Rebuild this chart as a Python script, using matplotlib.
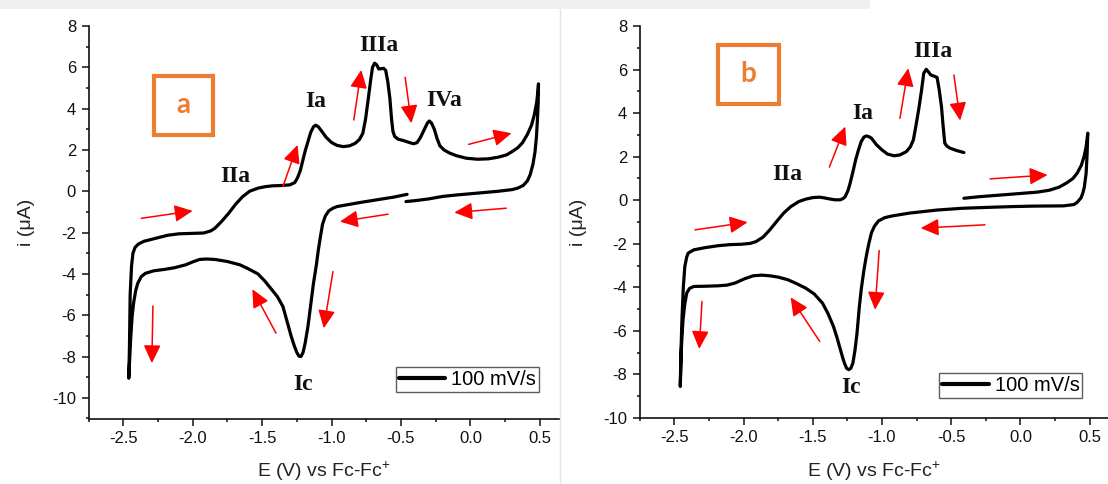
import matplotlib
matplotlib.use("Agg")
import matplotlib.pyplot as plt
from matplotlib.patches import Rectangle, FancyArrowPatch
from matplotlib.lines import Line2D
from matplotlib.ticker import MultipleLocator, FormatStrFormatter

plt.rcParams['font.family'] = ['Liberation Sans', 'DejaVu Sans']
plt.rcParams['mathtext.default'] = 'regular'
plt.rcParams['axes.unicode_minus'] = False

# ---- cyclic voltammogram (a), 100 mV/s, in scan order ----
cv_a_E = [
    -0.456, -0.55, -0.68, -0.80, -0.915, -0.96, -0.99, -1.02, -1.045, -1.065,
    -1.08, -1.095, -1.11, -1.13, -1.15, -1.17, -1.19, -1.205, -1.22, -1.235,
    -1.25, -1.27, -1.29, -1.32, -1.35, -1.39, -1.43, -1.48, -1.53, -1.60,
    -1.66, -1.75, -1.84, -1.90, -1.95, -2.00, -2.05, -2.13, -2.20, -2.28,
    -2.34, -2.37, -2.395, -2.41, -2.425, -2.436, -2.447, -2.456, -2.46,
    -2.455, -2.45, -2.44, -2.43, -2.415, -2.39, -2.35, -2.28, -2.18, -2.10,
    -2.00, -1.92, -1.87, -1.84, -1.79, -1.74, -1.69, -1.64, -1.59, -1.53,
    -1.48, -1.43, -1.36, -1.30, -1.265, -1.245, -1.225, -1.21, -1.19, -1.17,
    -1.15, -1.13, -1.115, -1.095, -1.07, -1.04, -1.00, -0.96, -0.915, -0.87,
    -0.83, -0.80, -0.775, -0.755, -0.735, -0.718, -0.705, -0.69, -0.675, -0.66,
    -0.645, -0.625, -0.61, -0.595, -0.58, -0.568, -0.558, -0.545, -0.52, -0.48,
    -0.44, -0.41, -0.385, -0.36, -0.335, -0.31, -0.296, -0.28, -0.26, -0.24,
    -0.22, -0.19, -0.15, -0.10, -0.03, 0.05, 0.13, 0.20, 0.26, 0.30,
    0.34, 0.375, 0.41, 0.44, 0.46, 0.477, 0.487, 0.49,
    0.488, 0.482, 0.475, 0.465, 0.45, 0.43, 0.41, 0.38, 0.34, 0.30,
    0.20, 0.10, 0.00, -0.10, -0.20, -0.30, -0.38, -0.464,
]
cv_a_i = [
    -0.15, -0.28, -0.42, -0.55, -0.69, -0.74, -0.82, -0.95, -1.2, -1.6,
    -2.2, -2.84, -3.6, -4.45, -5.5, -6.55, -7.35, -7.8, -8.0, -7.98,
    -7.8, -7.45, -7.03, -6.3, -5.58, -5.1, -4.77, -4.35, -4.0, -3.75,
    -3.56, -3.4, -3.3, -3.28, -3.3, -3.42, -3.56, -3.7, -3.78, -3.85,
    -3.97, -4.13, -4.45, -4.8, -5.4, -6.06, -7.2, -8.48, -9.05,
    -7.5, -5.0, -3.6, -3.0, -2.72, -2.55, -2.42, -2.3, -2.13, -2.06,
    -2.04, -2.02, -1.92, -1.79, -1.45, -1.06, -0.62, -0.26, 0.0, 0.15,
    0.22, 0.26, 0.28, 0.31, 0.42, 0.65, 1.0, 1.4, 1.95, 2.4,
    2.85, 3.12, 3.2, 3.12, 2.9, 2.62, 2.36, 2.22, 2.16, 2.2,
    2.32, 2.5, 2.8, 3.5, 4.5, 5.4, 6.0, 6.2, 6.12, 5.92,
    5.93, 5.95, 5.85, 5.3, 4.5, 3.5, 2.9, 2.65, 2.52, 2.45,
    2.36, 2.3, 2.35, 2.6, 2.95, 3.3, 3.4, 3.3, 3.0, 2.55,
    2.2, 2.0, 1.85, 1.72, 1.6, 1.55, 1.57, 1.65, 1.76, 1.92,
    2.1, 2.35, 2.75, 3.2, 3.7, 4.3, 4.9, 5.2,
    4.3, 3.4, 2.6, 1.9, 1.3, 0.8, 0.5, 0.28, 0.15, 0.08,
    0.0, -0.06, -0.12, -0.18, -0.25, -0.37, -0.44, -0.5,
]

# ---- cyclic voltammogram (b), 100 mV/s, in scan order ----
cv_b_E = [
    -0.408, -0.30, -0.20, -0.10, -0.042, 0.05, 0.12, 0.21, 0.28, 0.336,
    0.38, 0.41, 0.44, 0.46, 0.475, 0.487,
    0.482, 0.475, 0.462, 0.45, 0.437, 0.41, 0.386, 0.31, 0.10, -0.042,
    -0.20, -0.42, -0.60, -0.80, -0.925, -0.98, -1.025, -1.055, -1.076, -1.095,
    -1.114, -1.13, -1.15, -1.165, -1.18, -1.195, -1.21, -1.225, -1.24, -1.255,
    -1.27, -1.285, -1.30, -1.325, -1.35, -1.39, -1.43, -1.49, -1.55, -1.62,
    -1.68, -1.75, -1.81, -1.87, -1.93, -1.99, -2.06, -2.12, -2.185, -2.28,
    -2.36, -2.39, -2.41, -2.425, -2.437, -2.445, -2.45, -2.457,
    -2.452, -2.445, -2.435, -2.424, -2.41, -2.40, -2.36, -2.28, -2.185, -2.10,
    -2.01, -1.95, -1.91, -1.86, -1.81, -1.76, -1.71, -1.66, -1.60, -1.55,
    -1.50, -1.45, -1.41, -1.38, -1.34, -1.30, -1.28, -1.265, -1.245, -1.23,
    -1.21, -1.19, -1.17, -1.15, -1.13, -1.114, -1.095, -1.076, -1.04, -1.00,
    -0.96, -0.912, -0.87, -0.824, -0.795, -0.773, -0.755, -0.735, -0.715, -0.698,
    -0.68, -0.665, -0.647, -0.625, -0.602, -0.587, -0.57, -0.558, -0.546, -0.53,
    -0.508, -0.46, -0.408,
]
cv_b_i = [
    0.09, 0.16, 0.21, 0.26, 0.29, 0.33, 0.37, 0.46, 0.6, 0.8,
    1.0, 1.24, 1.6, 2.0, 2.45, 3.08,
    2.1, 1.24, 0.6, 0.3, 0.1, -0.1, -0.2, -0.26, -0.27, -0.29,
    -0.32, -0.37, -0.45, -0.59, -0.72, -0.8, -0.95, -1.2, -1.5, -2.0,
    -2.6, -3.2, -4.11, -5.0, -6.1, -6.9, -7.48, -7.72, -7.78, -7.72,
    -7.5, -7.2, -6.86, -6.3, -5.8, -5.2, -4.72, -4.3, -4.04, -3.82,
    -3.65, -3.53, -3.47, -3.44, -3.47, -3.6, -3.8, -3.9, -3.93, -3.95,
    -3.96, -4.05, -4.26, -4.8, -5.49, -6.3, -7.0, -8.55,
    -7.0, -5.5, -4.0, -3.04, -2.6, -2.43, -2.28, -2.18, -2.09, -2.04,
    -2.02, -1.98, -1.9, -1.7, -1.36, -0.97, -0.59, -0.3, -0.06, 0.05,
    0.12, 0.14, 0.1, 0.06, 0.02, 0.02, 0.08, 0.17, 0.45, 0.78,
    1.3, 1.85, 2.3, 2.69, 2.9, 2.95, 2.92, 2.85, 2.55, 2.31,
    2.12, 2.04, 2.08, 2.23, 2.45, 2.77, 3.4, 4.15, 5.0, 5.83,
    6.01, 5.9, 5.75, 5.7, 5.64, 5.1, 4.3, 3.4, 2.62, 2.48,
    2.39, 2.28, 2.19,
]

# ---- peak labels: (text, E, i) ----
peaks_a = [("IIIa", -0.657, 7.08), ("Ia", -1.116, 4.34), ("IVa", -0.19, 4.39),
           ("IIa", -1.69, 0.71), ("Ic", -1.206, -9.37)]
peaks_b = [("IIIa", -0.635, 6.82), ("Ia", -1.139, 4.0),
           ("IIa", -1.686, 1.16), ("Ic", -1.227, -8.62)]

# ---- scan-direction arrows: (E_tail, i_tail, E_tip, i_tip) ----
arrows_a = [(-2.37, -1.31, -2.00, -0.95), (-1.35, 0.23, -1.245, 2.24),
            (-0.84, 3.45, -0.786, 5.87), (-0.47, 5.52, -0.425, 3.29),
            (-0.013, 2.27, 0.296, 2.81), (0.258, -0.82, -0.116, -1.03),
            (-0.593, -1.11, -0.94, -1.47), (-0.99, -3.89, -1.056, -6.63),
            (-1.40, -6.87, -1.57, -4.74), (-2.286, -5.55, -2.294, -8.32)]
arrows_b = [(-2.35, -1.36, -1.97, -1.01), (-1.38, 1.52, -1.265, 3.38),
            (-0.87, 3.76, -0.81, 6.06), (-0.48, 5.75, -0.435, 3.66),
            (-0.219, 0.98, 0.197, 1.16), (-0.256, -1.13, -0.72, -1.28),
            (-1.02, -2.31, -1.05, -5.03), (-1.45, -6.48, -1.66, -4.46),
            (-2.30, -4.65, -2.32, -6.83)]

ORANGE = "#ED7D31"
W, H = 1108, 484

fig = plt.figure(figsize=(W / 100, H / 100), dpi=100)
fig.patch.set_facecolor("white")

# faint band along the top and divider between the two panels
fig.patches.append(Rectangle((0, 1 - 9 / H), 870 / W, 9 / H, transform=fig.transFigure,
                             facecolor="#f0f0f0", edgecolor="none", zorder=0))
fig.lines.append(Line2D([560 / W, 560 / W], [0, 1 - 9 / H], transform=fig.transFigure,
                        color="#e4e4e4", lw=1.0, zorder=0))


def px_axes(left, top, right, bottom):
    return fig.add_axes([left / W, 1 - bottom / H, (right - left) / W, (bottom - top) / H])


def style_axes(ax, xlim, ylim):
    ax.set_xlim(*xlim)
    ax.set_ylim(*ylim)
    for s in ("top", "right"):
        ax.spines[s].set_visible(False)
    for s in ("left", "bottom"):
        ax.spines[s].set_linewidth(1.2)
        ax.spines[s].set_color("#111111")
    ax.xaxis.set_major_locator(MultipleLocator(0.5))
    ax.xaxis.set_minor_locator(MultipleLocator(0.25))
    ax.yaxis.set_major_locator(MultipleLocator(2))
    ax.yaxis.set_minor_locator(MultipleLocator(1))
    ax.xaxis.set_major_formatter(FormatStrFormatter("%.1f"))
    ax.tick_params(which="major", direction="out", length=5, width=1.1,
                   labelsize=12, pad=4, colors="#111111")
    ax.tick_params(which="minor", direction="out", length=2.5, width=1.1, colors="#111111")
    ax.set_xlabel("E (V) vs Fc-Fc$^{+}$", fontsize=14, color="#222222", labelpad=10)
    ax.set_ylabel("i (\u03bcA)", fontsize=14, color="#222222", labelpad=12)


def draw_panel(ax, E, I, peaks, arrows, letter, box, legend_anchor):
    ax.plot(E, I, color="black", lw=2.3, solid_joinstyle="round",
            solid_capstyle="round", label="100 mV/s", zorder=3)
    for t, x, y in peaks:
        ax.text(x, y, t, fontsize=17, fontweight="bold", family="Liberation Serif",
                ha="center", va="center", color="#111111", zorder=4)
    for x0, y0, x1, y1 in arrows:
        ax.add_patch(FancyArrowPatch((x0, y0), (x1, y1),
                                     arrowstyle="-|>,head_length=0.55,head_width=0.26",
                                     mutation_scale=20, color="#ff0000", lw=1.1,
                                     shrinkA=0, shrinkB=0, zorder=5))
    bx0, by0, bx1, by1 = box
    ax.add_patch(Rectangle((bx0, by0), bx1 - bx0, by1 - by0, fill=False,
                           edgecolor=ORANGE, lw=3.0, zorder=4))
    ax.text((bx0 + bx1) / 2, (by0 + by1) / 2, letter, fontsize=20, fontweight="bold",
            family="Lato", color=ORANGE, ha="center", va="center", zorder=4)
    leg = ax.legend(loc="lower right", bbox_to_anchor=legend_anchor, frameon=True,
                    fancybox=False, shadow=False, fontsize=14.5, handlelength=2.3,
                    handletextpad=0.3, borderpad=0.15, borderaxespad=0)
    leg.get_frame().set_edgecolor("#333333")
    leg.get_frame().set_linewidth(1.0)
    for line in leg.get_lines():
        line.set_linewidth(3.0)


# panel (a)
ax_a = px_axes(88.5, 26, 560, 418.5)
style_axes(ax_a, (-2.75, 0.645), (-11, 8))
draw_panel(ax_a, cv_a_E, cv_a_i, peaks_a, arrows_a, "a",
           (-2.28, 2.74, -1.85, 5.6), (0.955, 0.0675))

# panel (b)
ax_b = px_axes(639.7, 26, 1108, 418)
style_axes(ax_b, (-2.75, 0.633), (-10, 8))
draw_panel(ax_b, cv_b_E, cv_b_i, peaks_b, arrows_b, "b",
           (-2.185, 4.42, -1.744, 7.13), (0.9455, 0.050))

fig.savefig("out.png", dpi=100, facecolor="white")
